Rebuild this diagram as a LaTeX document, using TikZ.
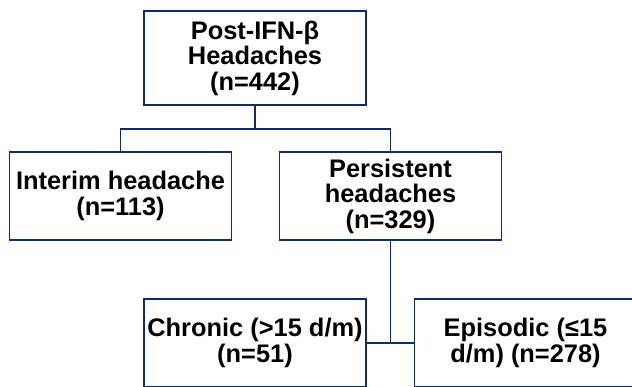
\documentclass[tikz,border=0pt]{standalone}
\usepackage{fontspec}
\setmainfont{Liberation Sans}
\definecolor{navy}{HTML}{0E2C6C}
\begin{document}
\begin{tikzpicture}[x=1pt,y=-1pt,
  box/.style={draw=navy, line width=1.8pt, fill=white, minimum width=222pt, inner sep=0pt, align=center,
    font=\fontsize{25.4}{25.5}\selectfont\bfseries},
  link/.style={draw=navy, line width=1.8pt}]
\clip (0,0) rectangle (632,387);
\fill[white] (0,0) rectangle (632,387);
\node[box, minimum height=94pt] (top) at (255,58) {Post-IFN-β\\Headaches\\(n=442)};
\node[box, minimum height=88pt] (interim) at (120.5,196) {Interim headache\\(n=113)};
\node[box, minimum height=88pt] (persist) at (390.5,196) {Persistent\\headaches\\(n=329)};
\node[box, minimum height=88pt] (chronic) at (255,343) {Chronic (>15 d/m)\\(n=51)};
\node[box, minimum height=88pt] (episodic) at (525.5,343) {Episodic (≤15\\d/m) (n=278)};
\draw[link] (top.south) -- ++(0,23) coordinate (split) -| (interim.north);
\draw[link] (split) -| (persist.north);
\draw[link] (persist.south) |- (chronic.east);
\draw[link] (persist.south) |- (episodic.west);
\end{tikzpicture}
\end{document}
